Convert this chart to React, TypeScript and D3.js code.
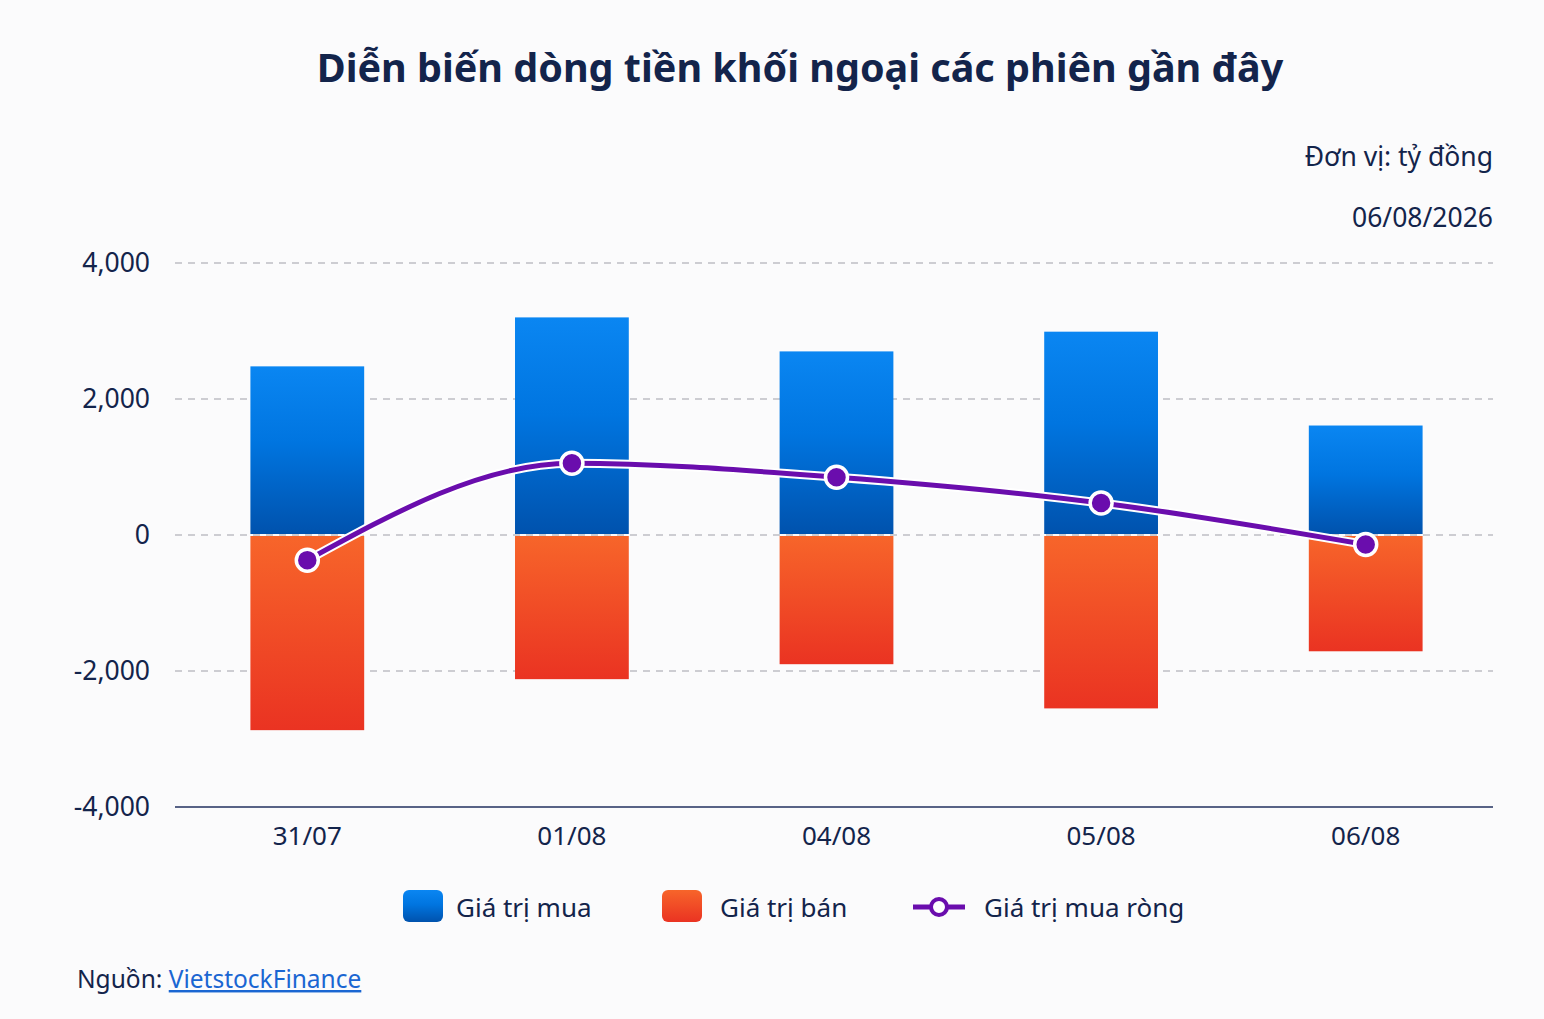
import React from "react";
import * as d3 from "d3";

const categories = ["31/07", "01/08", "04/08", "05/08", "06/08"];
const buyValues = [2480, 3200, 2700, 2990, 1610];
const sellValues = [-2870, -2120, -1900, -2550, -1710];
const netValues = [-370, 1055, 850, 470, -140];
const yTicks = [-4000, -2000, 0, 2000, 4000];

const W = 1544;
const H = 1019;
const FONT = "'Noto Sans', 'Open Sans', sans-serif";
const NAVY = "#13244b";
const PURPLE = "#6a0dad";

export default function App() {
  const x = d3
    .scaleBand<string>()
    .domain(categories)
    .range([175, 1498])
    .paddingInner(0.57)
    .paddingOuter(0.285);
  const y = d3.scaleLinear().domain([-4000, 4000]).range([807, 263]);
  const cx = (c: string) => (x(c) as number) + x.bandwidth() / 2;
  const y0 = y(0);

  const line = d3
    .line<number>()
    .x((_, i) => cx(categories[i]))
    .y((d) => y(d))
    .curve(d3.curveMonotoneX);
  const netPath = line(netValues) || "";

  const fmt = (v: number) => d3.format(",")(v).replace("\u2212", "-");

  return (
    <div style={{ position: "absolute", left: 0, top: 0 }}>
      <svg width={W} height={H} style={{ display: "block", fontFamily: FONT }}>
        <defs>
          <linearGradient id="gBuy" x1="0" y1="0" x2="0" y2="1">
            <stop offset="0%" stopColor="#0a86f2" />
            <stop offset="45%" stopColor="#0075e0" />
            <stop offset="100%" stopColor="#0052ad" />
          </linearGradient>
          <linearGradient id="gSell" x1="0" y1="0" x2="0" y2="1">
            <stop offset="0%" stopColor="#f7652a" />
            <stop offset="100%" stopColor="#ea3322" />
          </linearGradient>
        </defs>
        <rect x={0} y={0} width={W} height={H} fill="#fbfbfc" />

        <text x={800} y={82} textAnchor="middle" fontSize={39.5} fontWeight={700} fill={NAVY}>
          Diễn biến dòng tiền khối ngoại các phiên gần đây
        </text>
        <text x={1493} y={166} textAnchor="end" fontSize={26.5} fill={NAVY}>
          Đơn vị: tỷ đồng
        </text>
        <text x={1493} y={227} textAnchor="end" fontSize={26.5} fill={NAVY}>
          06/08/2026
        </text>

        {yTicks.map((t) => (
          <g key={t}>
            {t !== -4000 && (
              <line
                x1={175}
                x2={1493}
                y1={y(t)}
                y2={y(t)}
                stroke="#bfbfc4"
                strokeWidth={1.3}
                strokeDasharray="7 6"
              />
            )}
            <text x={150} y={y(t) + 9} textAnchor="end" fontSize={26.5} fill={NAVY}>
              {fmt(t)}
            </text>
          </g>
        ))}
        <line x1={175} x2={1493} y1={y(-4000)} y2={y(-4000)} stroke="#22315f" strokeWidth={1.6} />

        {categories.map((c, i) => (
          <g key={c}>
            <rect
              x={x(c)}
              y={y(buyValues[i])}
              width={x.bandwidth()}
              height={y0 - 1 - y(buyValues[i])}
              fill="url(#gBuy)"
            />
            <rect
              x={x(c)}
              y={y0 + 1}
              width={x.bandwidth()}
              height={y(sellValues[i]) - y0 - 1}
              fill="url(#gSell)"
            />
            <text x={cx(c)} y={845} textAnchor="middle" fontSize={26} fill={NAVY}>
              {c}
            </text>
          </g>
        ))}

        <path d={netPath} fill="none" stroke="#ffffff" strokeWidth={9} strokeLinecap="round" />
        <path d={netPath} fill="none" stroke={PURPLE} strokeWidth={5} strokeLinecap="round" />
        {netValues.map((v, i) => (
          <circle
            key={i}
            cx={cx(categories[i])}
            cy={y(v)}
            r={11}
            fill={PURPLE}
            stroke="#ffffff"
            strokeWidth={3.5}
          />
        ))}

        {/* Legend */}
        <rect x={403} y={890} width={40} height={32} rx={6} fill="url(#gBuy)" />
        <text x={456} y={917} fontSize={26} fill={NAVY}>
          Giá trị mua
        </text>
        <rect x={662} y={890} width={40} height={32} rx={6} fill="url(#gSell)" />
        <text x={720} y={917} fontSize={26} fill={NAVY}>
          Giá trị bán
        </text>
        <line x1={913} x2={965} y1={907} y2={907} stroke={PURPLE} strokeWidth={5} />
        <circle cx={939} cy={907} r={8} fill="#ffffff" stroke={PURPLE} strokeWidth={4} />
        <text x={984} y={917} fontSize={26} fill={NAVY}>
          Giá trị mua ròng
        </text>

        <text x={77} y={988} fontSize={24.5} fill={NAVY}>
          Nguồn:{" "}
          <tspan fill="#1a66d2" textDecoration="underline">
            VietstockFinance
          </tspan>
        </text>
      </svg>
    </div>
  );
}
